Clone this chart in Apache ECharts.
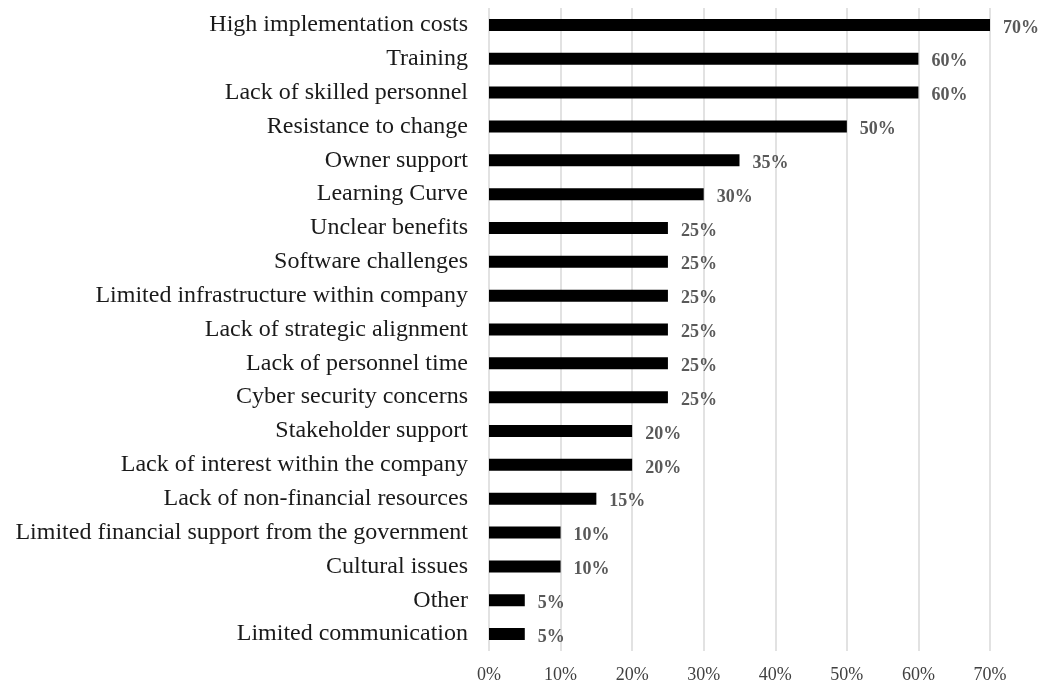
<!DOCTYPE html>
<html>
<head>
<meta charset="utf-8">
<script src="https://cdn.jsdelivr.net/npm/echarts@6/dist/echarts.min.js"></script>
<style>
  html, body { margin: 0; padding: 0; background: #ffffff; }
  #chart { width: 1042px; height: 684px; }
</style>
</head>
<body>
<div id="chart"></div>
<script>
// Barriers, listed top to bottom
const categories = [
  'High implementation costs',
  'Training',
  'Lack of skilled personnel',
  'Resistance to change',
  'Owner support',
  'Learning Curve',
  'Unclear benefits',
  'Software challenges',
  'Limited infrastructure within company',
  'Lack of strategic alignment',
  'Lack of personnel time',
  'Cyber security concerns',
  'Stakeholder support',
  'Lack of interest within the company',
  'Lack of non-financial resources',
  'Limited financial support from the government',
  'Cultural issues',
  'Other',
  'Limited communication'
];
// Share of respondents, percent
const shares = [70, 60, 60, 50, 35, 30, 25, 25, 25, 25, 25, 25, 20, 20, 15, 10, 10, 5, 5];
// Value axis ticks, percent
const tickValues = [0, 10, 20, 30, 40, 50, 60, 70];

const serif = '"Liberation Serif", "Times New Roman", serif';
const chart = echarts.init(document.getElementById('chart'), null, { renderer: 'canvas' });

chart.setOption({
  animation: false,
  backgroundColor: '#ffffff',
  grid: { left: 489, right: 52, top: 8, bottom: 33, containLabel: false },
  xAxis: {
    type: 'value',
    min: tickValues[0],
    max: tickValues[tickValues.length - 1],
    interval: 10,
    axisLine: { show: false },
    axisTick: { show: false },
    splitLine: { show: true, lineStyle: { color: '#d9d9d9', width: 1.5 } },
    axisLabel: {
      formatter: v => v + '%',
      fontFamily: serif,
      fontSize: 18,
      color: '#404040',
      margin: 15
    }
  },
  yAxis: {
    type: 'category',
    data: categories,
    inverse: true,
    axisLine: { show: false },
    axisTick: { show: false },
    splitLine: { show: false },
    axisLabel: {
      fontFamily: serif,
      fontSize: 24,
      color: '#1a1a1a',
      margin: 21
    }
  },
  series: [{
    type: 'bar',
    data: shares,
    barWidth: 12,
    itemStyle: { color: '#000000' },
    label: {
      show: true,
      position: 'right',
      distance: 13,
      offset: [0, 3],
      formatter: p => p.value + '%',
      fontFamily: serif,
      fontWeight: 'bold',
      fontSize: 18,
      color: '#595959'
    }
  }]
});
</script>
</body>
</html>
